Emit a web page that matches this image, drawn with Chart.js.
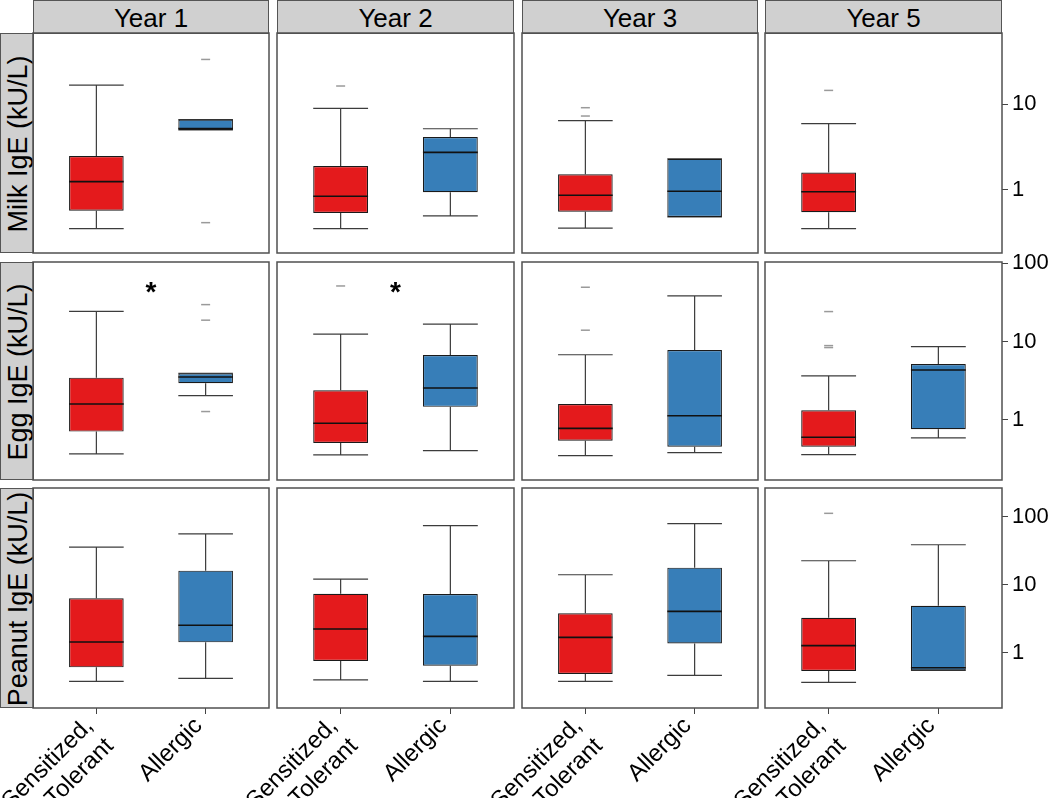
<!DOCTYPE html>
<html><head><meta charset="utf-8">
<script src="https://cdn.jsdelivr.net/npm/chart.js@4.4.1/dist/chart.umd.min.js"></script>
<style>
html,body{margin:0;padding:0;background:#fff;}
body{width:1050px;height:798px;position:relative;overflow:hidden;font-family:"Liberation Sans",Arial,sans-serif;}
canvas{position:absolute;}
.strip{position:absolute;background:#d0d0d0;border:1.5px solid #555;box-sizing:border-box;color:#000;overflow:hidden;}
.strip .t{position:absolute;left:0;top:0;width:100%;text-align:center;white-space:nowrap;}
</style></head><body>
<script>
// ---------- data ----------
const years = ['Year 1', 'Year 2', 'Year 3', 'Year 5'];
const allergens = ['Milk IgE (kU/L)', 'Egg IgE (kU/L)', 'Peanut IgE (kU/L)'];
const groups = [['Sensitized,', 'Tolerant'], 'Allergic'];
const groupColors = ['#E41A1C', '#377EB8'];
const yTickValues = [1, 10, 100];
const yAxisMin = [0.185, 0.171, 0.154];
const yAxisMax = [67, 104, 264];

// [lower whisker, Q1, median, Q3, upper whisker] per year (null = no data)
const milkTolerant = [[0.355, 0.575, 1.25, 2.48, 16.6], [0.355, 0.54, 0.845, 1.90, 8.9], [0.361, 0.56, 0.867, 1.52, 6.4], [0.355, 0.55, 0.956, 1.60, 5.9]];
const milkAllergic = [[4.99, 4.99, 5.2, 6.6, 6.6], [0.50, 0.94, 2.74, 4.13, 5.16], [0.485, 0.485, 0.966, 2.31, 2.31], null];
const eggTolerant = [[0.368, 0.71, 1.60, 3.47, 24.4], [0.357, 0.508, 0.906, 2.39, 12.5], [0.35, 0.544, 0.78, 1.6, 6.8], [0.36, 0.456, 0.60, 1.33, 3.65]];
const eggAllergic = [[2.05, 2.94, 3.54, 3.95, 3.95], [0.406, 1.47, 2.56, 6.76, 16.7], [0.383, 0.456, 1.13, 7.83, 38.4], [0.589, 0.76, 4.35, 5.19, 8.63]];
const peanutTolerant = [[0.38, 0.61, 1.44, 6.3, 35.8], [0.40, 0.755, 2.23, 7.38, 12.1], [0.38, 0.486, 1.68, 3.8, 14.0], [0.367, 0.538, 1.27, 3.27, 22.5]];
const peanutAllergic = [[0.42, 1.42, 2.53, 16.1, 56], [0.38, 0.644, 1.74, 7.3, 73.8], [0.465, 1.37, 4.06, 17.8, 78.9], [0.55, 0.55, 0.60, 4.91, 38.7]];

// outliers per year
const milkTolerantOut = [[], [16.2], [9.06, 7.25], [14.4]];
const milkAllergicOut = [[33, 0.417], [], [], []];
const eggTolerantOut = [[], [51.4], [49.5, 14.0], [24.2, 8.9, 8.4]];
const eggAllergicOut = [[29.7, 18.8, 1.28], [], [], []];
const peanutTolerantOut = [[], [], [], [112]];
const peanutAllergicOut = [[], [], [], []];

// significance markers per year
const milkSignificant = [false, false, false, false];
const eggSignificant = [true, true, false, false];
const peanutSignificant = [false, false, false, false];
const significanceMark = { symbol: '*', x: 1.5, y: 50 };

// ---------- layout ----------
const colLeft = [33, 277, 522, 765];
const colWidth = [236, 237, 236, 237];
const rowTop = [33, 262, 488];
const rowHeight = [220, 218, 220];
const W = 1050, H = 798;
const FONT = '"Liberation Sans", Arial, sans-serif';

const rowsData = [
  { tol: milkTolerant, all: milkAllergic, tolOut: milkTolerantOut, allOut: milkAllergicOut, sig: milkSignificant },
  { tol: eggTolerant, all: eggAllergic, tolOut: eggTolerantOut, allOut: eggAllergicOut, sig: eggSignificant },
  { tol: peanutTolerant, all: peanutAllergic, tolOut: peanutTolerantOut, allOut: peanutAllergicOut, sig: peanutSignificant }
];

function addStrip(left, top, w, h, text, vertical, size) {
  const d = document.createElement('div');
  d.className = 'strip';
  d.style.left = left + 'px'; d.style.top = top + 'px';
  d.style.width = w + 'px'; d.style.height = h + 'px';
  const t = document.createElement('div');
  t.className = 't';
  t.textContent = text;
  t.style.fontSize = size + 'px';
  if (vertical) {
    t.style.width = h + 'px';
    t.style.height = w + 'px';
    t.style.lineHeight = w + 'px';
    t.style.left = ((w - h) / 2) + 'px';
    t.style.top = ((h - w) / 2) + 'px';
    t.style.transform = 'rotate(-90deg)';
  } else {
    t.style.lineHeight = h + 'px';
  }
  d.appendChild(t);
  document.body.appendChild(d);
}

years.forEach((y, i) => addStrip(colLeft[i], 0, colWidth[i], 34, y, false, 26));
allergens.forEach((a, j) => addStrip(0, rowTop[j], 34, rowHeight[j], a, true, 27));

function makeExtras(boxes, showStar) {
  return {
    id: 'boxExtras',
    beforeDatasetsDraw(chart) {
      const { ctx, scales: { y } } = chart;
      const meta = chart.getDatasetMeta(0);
      ctx.save();
      ctx.strokeStyle = '#3c3c3c';
      ctx.lineWidth = 1.2;
      boxes.forEach((b, k) => {
        const el = meta.data[k];
        const cx = el.x, half = el.width / 2;
        const [lo, q1, , q3, hi] = b.v;
        const yLo = y.getPixelForValue(lo), yQ1 = y.getPixelForValue(q1);
        const yQ3 = y.getPixelForValue(q3), yHi = y.getPixelForValue(hi);
        ctx.beginPath();
        ctx.moveTo(cx, yHi); ctx.lineTo(cx, yQ3);
        ctx.moveTo(cx, yQ1); ctx.lineTo(cx, yLo);
        ctx.moveTo(cx - half, yHi); ctx.lineTo(cx + half, yHi);
        ctx.moveTo(cx - half, yLo); ctx.lineTo(cx + half, yLo);
        ctx.stroke();
      });
      ctx.restore();
    },
    afterDatasetsDraw(chart) {
      const { ctx, scales: { x, y } } = chart;
      const meta = chart.getDatasetMeta(0);
      ctx.save();
      ctx.strokeStyle = '#111';
      ctx.lineWidth = 1.6;
      boxes.forEach((b, k) => {
        const el = meta.data[k];
        const cx = el.x, half = el.width / 2;
        const ym = y.getPixelForValue(b.v[2]);
        ctx.beginPath();
        ctx.moveTo(cx - half, ym); ctx.lineTo(cx + half, ym);
        ctx.stroke();
      });
      if (showStar) {
        ctx.fillStyle = '#000';
        ctx.font = 'bold 28px ' + FONT;
        ctx.textAlign = 'center';
        ctx.textBaseline = 'alphabetic';
        ctx.fillText(significanceMark.symbol, x.getPixelForValue(significanceMark.x), y.getPixelForValue(significanceMark.y) + 14);
      }
      ctx.restore();
    },
    afterDraw(chart) {
      const { ctx, chartArea: a } = chart;
      ctx.save();
      ctx.strokeStyle = '#505050';
      ctx.lineWidth = 1.5;
      ctx.strokeRect(a.left, a.top, a.right - a.left, a.bottom - a.top);
      ctx.restore();
    }
  };
}

rowsData.forEach((row, j) => {
  years.forEach((yr, i) => {
    const isRight = i === 3, isBottom = j === 2;
    const M = 24;
    const padL = isBottom ? 80 : M;
    const cl = colLeft[i] - padL, ct = rowTop[j] - M;
    const cw = isRight ? W - cl : colWidth[i] + padL + M;
    const ch = isBottom ? H - ct : rowHeight[j] + 2 * M;
    const axisW = W - (colLeft[i] + colWidth[i]);
    const axisH = H - (rowTop[j] + rowHeight[j]);

    const boxes = [];
    [row.tol[i], row.all[i]].forEach((v, g) => { if (v) boxes.push({ x: g + 1, v }); });
    const outliers = [];
    row.tolOut[i].forEach(v => outliers.push({ x: 1, y: v }));
    row.allOut[i].forEach(v => outliers.push({ x: 2, y: v }));

    const canvas = document.createElement('canvas');
    canvas.width = cw; canvas.height = ch;
    canvas.style.left = cl + 'px'; canvas.style.top = ct + 'px';
    canvas.style.width = cw + 'px'; canvas.style.height = ch + 'px';
    document.body.appendChild(canvas);

    new Chart(canvas, {
      type: 'bar',
      data: {
        datasets: [
          {
            type: 'bar',
            data: boxes.map(b => ({ x: b.x, y: [b.v[1], b.v[3]] })),
            backgroundColor: boxes.map(b => groupColors[b.x - 1]),
            borderColor: '#1a1a1a',
            borderWidth: 1.2,
            borderSkipped: false,
            barPercentage: 0.5,
            categoryPercentage: 1,
            order: 2
          },
          {
            type: 'scatter',
            data: outliers,
            pointStyle: 'line',
            pointRadius: 4.5,
            borderColor: '#9a9a9a',
            backgroundColor: '#9a9a9a',
            borderWidth: 1.5,
            order: 1
          }
        ]
      },
      options: {
        responsive: false,
        animation: false,
        devicePixelRatio: 1,
        events: [],
        layout: { padding: { left: padL, top: M, right: isRight ? 0 : M, bottom: isBottom ? 0 : M } },
        plugins: { legend: { display: false }, tooltip: { enabled: false } },
        scales: {
          x: {
            type: 'linear',
            min: 0.42, max: 2.58,
            offset: false,
            display: isBottom,
            afterBuildTicks: s => { s.ticks = [{ value: 1 }, { value: 2 }]; },
            afterFit: s => { if (isBottom) s.height = axisH; },
            grid: { display: true, drawOnChartArea: false, drawTicks: true, tickLength: 6, color: '#444', offset: false },
            border: { display: false },
            ticks: {
              autoSkip: false, minRotation: 45, maxRotation: 45, padding: -2, labelOffset: -7,
              color: '#000', font: { family: FONT, size: 24 },
              callback: v => groups[v - 1]
            }
          },
          y: {
            type: 'logarithmic',
            position: 'right',
            min: yAxisMin[j], max: yAxisMax[j],
            beginAtZero: false,
            display: isRight,
            afterBuildTicks: s => { s.ticks = yTickValues.filter(v => v >= s.min && v <= s.max).map(v => ({ value: v })); },
            afterFit: s => { if (isRight) s.width = axisW; },
            grid: { display: true, drawOnChartArea: false, drawTicks: true, tickLength: 6, color: '#444' },
            border: { display: false },
            ticks: { color: '#000', padding: 4, font: { family: FONT, size: 22 }, callback: v => String(v) }
          }
        }
      },
      plugins: [makeExtras(boxes, row.sig[i])]
    });
  });
});
</script>
</body></html>
